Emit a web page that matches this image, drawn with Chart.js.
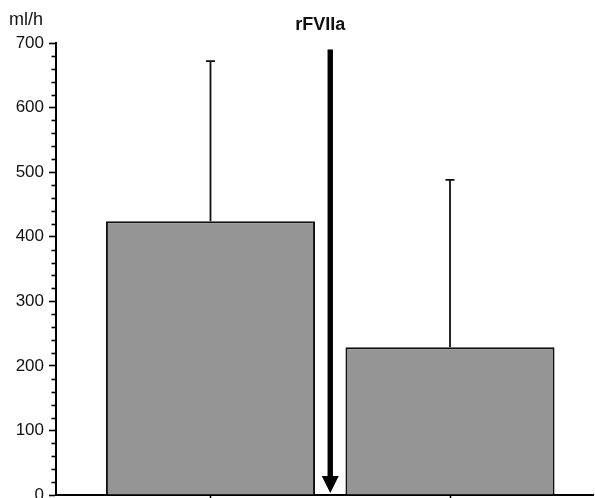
<!DOCTYPE html>
<html>
<head>
<meta charset="utf-8">
<script src="https://cdn.jsdelivr.net/npm/chart.js@4"></script>
<style>
html,body{margin:0;padding:0;background:#fff;width:595px;height:498px;overflow:hidden;}
#wrap{width:595px;height:498px;position:relative;}
</style>
</head>
<body>
<div id="wrap"><canvas id="c"></canvas></div>
<script>
// ---- data ----
const categories = ['Before rFVIIa', 'After rFVIIa'];
const barPositions = [0, 1];
const meanValues = [424, 229];
const sdValues = [248, 259];
const yMajorStep = 100;
const yMinorStep = 20;
const yMin = 0, yMax = 700;
const arrowPosition = 0.5;
const arrowFrom = 690, arrowTo = 3;
const yUnit = 'ml/h';
const arrowLabel = 'rFVIIa';

const FONT = '"Liberation Sans", Arial, Helvetica, sans-serif';

const extras = {
  id: 'extras',
  afterDatasetsDraw(chart) {
    const ctx = chart.ctx;
    const xs = chart.scales.x, ys = chart.scales.y;
    ctx.save();
    // error bars (upper only)
    ctx.strokeStyle = '#111';
    ctx.lineWidth = 1.8;
    meanValues.forEach((m, i) => {
      const x = xs.getPixelForValue(barPositions[i]);
      const y0 = ys.getPixelForValue(m);
      const y1 = ys.getPixelForValue(m + sdValues[i]);
      ctx.beginPath();
      ctx.moveTo(x, y0); ctx.lineTo(x, y1);
      ctx.moveTo(x - 4.5, y1); ctx.lineTo(x + 4.5, y1);
      ctx.stroke();
    });
    // arrow
    const ax = xs.getPixelForValue(arrowPosition);
    const aTop = ys.getPixelForValue(arrowFrom);
    const aTip = ys.getPixelForValue(arrowTo);
    ctx.fillStyle = '#000';
    ctx.fillRect(ax - 2.7, aTop, 5.4, aTip - 15 - aTop);
    ctx.beginPath();
    ctx.moveTo(ax - 8.5, aTip - 17);
    ctx.lineTo(ax + 8.5, aTip - 17);
    ctx.lineTo(ax, aTip);
    ctx.closePath();
    ctx.fill();
    // minor ticks
    ctx.strokeStyle = '#000';
    ctx.lineWidth = 1.6;
    for (let v = yMin; v <= yMax; v += yMinorStep) {
      if (v % yMajorStep === 0) continue;
      const y = Math.round(ys.getPixelForValue(v)) + 0.5;
      ctx.beginPath();
      ctx.moveTo(xs.left - 4.5, y); ctx.lineTo(xs.left, y);
      ctx.stroke();
    }
    // texts
    ctx.fillStyle = '#111';
    ctx.font = '18px ' + FONT;
    ctx.textAlign = 'left';
    ctx.textBaseline = 'alphabetic';
    ctx.fillText(yUnit, 9, 25);
    ctx.font = 'bold 18px ' + FONT;
    ctx.textAlign = 'center';
    ctx.fillText(arrowLabel, ax - 10, 30);
    ctx.restore();
  }
};

new Chart(document.getElementById('c'), {
  type: 'bar',
  data: {
    datasets: [{
      label: 'Bleeding',
      data: barPositions.map((p, i) => ({ x: p, y: meanValues[i] })),
      backgroundColor: '#959595',
      borderColor: '#111',
      borderWidth: 2,
      borderSkipped: 'bottom',
      categoryPercentage: 1,
      barPercentage: 0.873
    }]
  },
  options: {
    responsive: true,
    maintainAspectRatio: false,
    animation: false,
    layout: { padding: { left: 0, right: 2, top: 43, bottom: 0 } },
    plugins: { legend: { display: false }, tooltip: { enabled: false }, title: { display: false } },
    scales: {
      x: {
        type: 'linear',
        offset: false,
        min: -0.645,
        max: 1.597,
        afterBuildTicks: (s) => { s.ticks = barPositions.map(v => ({ value: v })); },
        afterFit: (s) => { s.height = 3; s.paddingLeft = 0; s.paddingRight = 0; },
        ticks: { display: false },
        grid: { drawOnChartArea: false, offset: false, tickLength: 4, tickColor: '#000', tickWidth: 1.5 },
        border: { color: '#000', width: 2 }
      },
      y: {
        min: yMin,
        max: yMax,
        afterFit: (s) => { s.width = 56; s.paddingTop = 0; s.paddingBottom = 0; },
        ticks: { stepSize: yMajorStep, padding: 5, color: '#111', font: { size: 17, family: FONT } },
        grid: { drawOnChartArea: false, tickLength: 7, tickColor: '#000', tickWidth: 1.6 },
        border: { color: '#000', width: 2 }
      }
    }
  },
  plugins: [extras]
});
</script>
</body>
</html>
